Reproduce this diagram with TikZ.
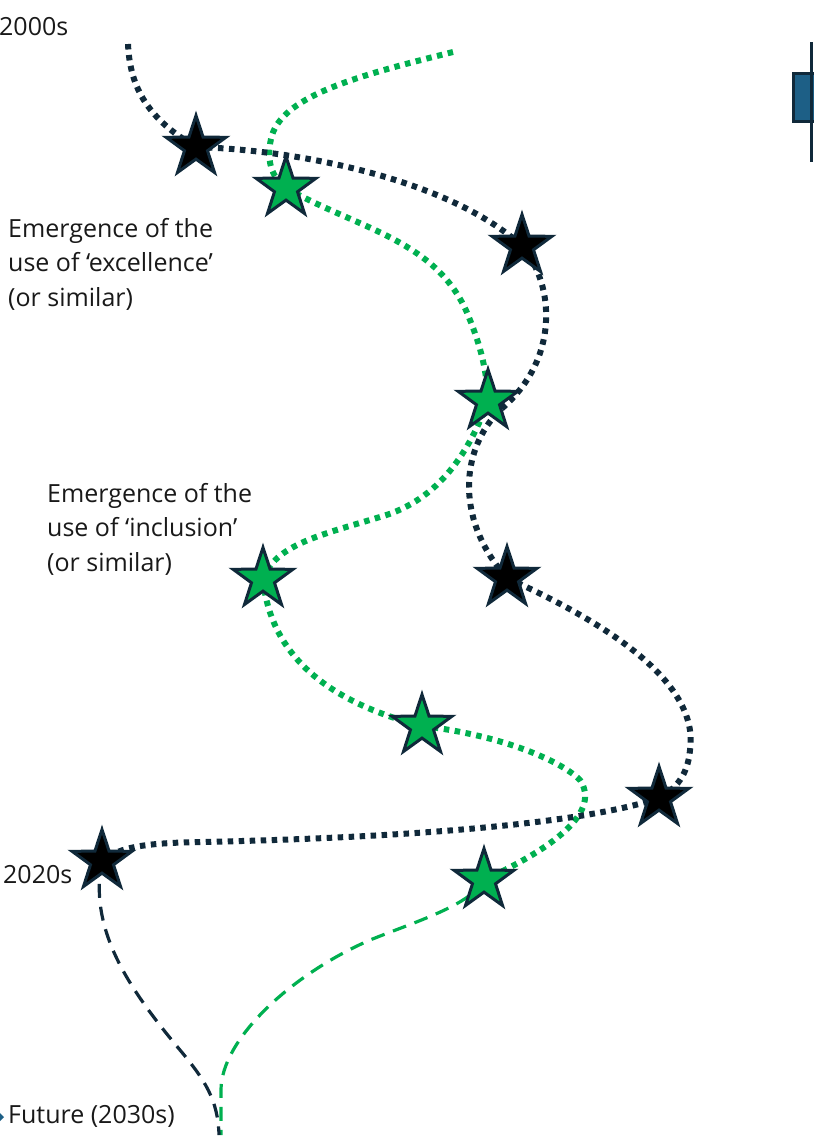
\documentclass[tikz,border=0pt]{standalone}
\usepackage{fontspec}
\setmainfont{Open Sans}
\usetikzlibrary{shapes.geometric,backgrounds}
\definecolor{navy}{HTML}{10293A}
\definecolor{leaf}{HTML}{00B050}
\definecolor{boxblue}{HTML}{1D5F86}

\begin{document}
\begin{tikzpicture}[x=1pt,y=-1pt,
    milestone/.style={star, star points=5, star point ratio=2.6, minimum size=63pt,
                      inner sep=0pt, draw=navy, line width=3pt},
    note/.style={anchor=west, align=left, inner sep=0pt, text=black!90,
                 font=\fontsize{25}{34.5}\selectfont},
    dotpath/.style={line width=6pt, dash pattern=on 5.5pt off 5.5pt},
    dashpath/.style={line width=3.2pt, dash pattern=on 14pt off 9pt}]
   \useasboundingbox (0,0) rectangle (814,1138);

   % stars: black = excellence, green = inclusion
   \node[milestone,fill=black] (B1) at (196,147) {};
   \node[milestone,fill=black] (B2) at (522,246) {};
   \node[milestone,fill=black] (B3) at (507,578) {};
   \node[milestone,fill=black] (B4) at (659,798) {};
   \node[milestone,fill=black] (B5) at (102,861) {};
   \node[milestone,fill=leaf] (G1) at (286,188) {};
   \node[milestone,fill=leaf] (G2) at (488,401) {};
   \node[milestone,fill=leaf] (G3) at (263,579) {};
   \node[milestone,fill=leaf] (G4) at (422,726) {};
   \node[milestone,fill=leaf] (G5) at (484,880) {};

   \coordinate (Bstart) at (128,44);
   \coordinate (Gstart) at (453,52);
   \coordinate (Bend) at (219,1135);
   \coordinate (Gend) at (221,1135);

   % labels
   \node[note] (T2000) at (-1,27) {2000s};
   \node[note] (Texc) at (8,264) {Emergence of the\\use of ‘excellence’\\(or similar)};
   \node[note] (Tinc) at (47,529) {Emergence of the\\use of ‘inclusion’\\(or similar)};
   \node[note] (T2020) at (3,875) {2020s};
   \node[note] (Tfut) at (8,1116) {Future (2030s)};

   % cut-off box at the right edge
   \filldraw[fill=boxblue, draw=navy, line width=3pt] (793,73) rectangle (840,121);
   \draw[navy, line width=3pt] (811,42) -- (811,162);
   \fill[boxblue] (0,1113) -- (4,1117) -- (0,1121) -- cycle;

   \begin{pgfonlayer}{background}
   \draw[dotpath,leaf] (Gstart) .. controls (360,75) and (285,95) .. (272,135)
        .. controls (265,160) and (272,178) .. (G1.center);
   \draw[dotpath,leaf] (G1.center) .. controls (360,230) and (440,240) .. (470,320)
        .. controls (480,345) and (487,370) .. (G2.center);
   \draw[dotpath,leaf] (G2.center) .. controls (470,450) and (440,500) .. (380,517)
        .. controls (320,535) and (275,545) .. (G3.center);
   \draw[dotpath,leaf] (G3.center) .. controls (270,650) and (320,700) .. (G4.center);
   \draw[dotpath,leaf] (G4.center) .. controls (500,735) and (560,760) .. (580,780)
        .. controls (600,810) and (560,845) .. (G5.center);
   \draw[dashpath,leaf] (G5.center) .. controls (470,905) and (420,920) .. (370,940)
        .. controls (290,975) and (221,1040) .. (221,1090) -- (Gend);

   \draw[dotpath,navy] (Bstart) .. controls (130,90) and (150,120) .. (B1.center);
   \draw[dotpath,navy] (B1.center) .. controls (300,150) and (450,180) .. (B2.center);
   \draw[dotpath,navy] (B2.center) .. controls (555,285) and (560,360) .. (500,410)
        .. controls (460,450) and (455,520) .. (B3.center);
   \draw[dotpath,navy] (B3.center) .. controls (600,620) and (700,680) .. (690,750)
        .. controls (688,775) and (675,790) .. (B4.center);
   \draw[dotpath,navy] (B4.center) .. controls (560,832) and (300,840) .. (200,842)
        .. controls (150,843) and (120,846) .. (B5.center);
   \draw[dashpath,navy] (B5.center) .. controls (88,930) and (130,990) .. (180,1050)
        .. controls (205,1080) and (218,1100) .. (Bend);
   \end{pgfonlayer}
\end{tikzpicture}
\end{document}
